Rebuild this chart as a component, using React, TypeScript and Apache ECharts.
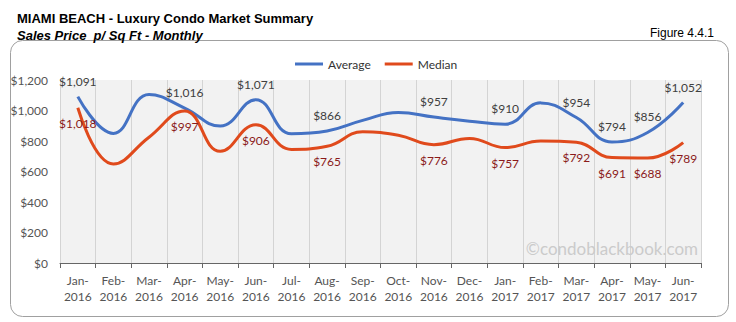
import React, { useEffect, useRef } from "react";
import * as echarts from "echarts";

const categories = [
  "Jan-\n2016", "Feb-\n2016", "Mar-\n2016", "Apr-\n2016", "May-\n2016", "Jun-\n2016",
  "Jul-\n2016", "Aug-\n2016", "Sep-\n2016", "Oct-\n2016", "Nov-\n2016", "Dec-\n2016",
  "Jan-\n2017", "Feb-\n2017", "Mar-\n2017", "Apr-\n2017", "May-\n2017", "Jun-\n2017",
];
const averageValues = [1091, 850, 1105, 1016, 898, 1071, 848, 866, 935, 987, 957, 930, 910, 1050, 954, 794, 856, 1052];
const medianValues = [1018, 649, 825, 997, 732, 906, 745, 765, 860, 838, 776, 817, 757, 800, 792, 691, 688, 789];
const labeledIdx = [0, 3, 5, 7, 10, 12, 14, 15, 16, 17];
const yTicks = [0, 200, 400, 600, 800, 1000, 1200];

const BLUE = "#4472c4";
const RED = "#e04a1c";
const FONT = "Lato, 'Open Sans', sans-serif";
const fmt = (v: number) => "$" + v.toLocaleString("en-US");

export default function App() {
  const ref = useRef<HTMLDivElement>(null);
  useEffect(() => {
    document.body.style.margin = "0";
    const chart = echarts.init(ref.current!, null, { renderer: "svg" });
    const mk = (vals: number[], pos: string, color: string) =>
      vals.map((v, i) => ({
        value: v,
        label: labeledIdx.includes(i)
          ? { show: true, position: pos, distance: 9, formatter: fmt(v), color, fontSize: 12, fontFamily: FONT }
          : { show: false },
      }));
    chart.setOption({
      animation: false,
      backgroundColor: "#fff",
      title: [
        {
          text: "MIAMI BEACH - Luxury Condo Market Summary",
          left: 12, top: 7,
          textStyle: { fontFamily: "'Liberation Sans', Arial, sans-serif", fontSize: 13, fontWeight: "bold", color: "#000" },
        },
        {
          text: "Sales Price  p/ Sq Ft - Monthly",
          left: 12, top: 24,
          textStyle: { fontFamily: "'Liberation Sans', Arial, sans-serif", fontSize: 13, fontWeight: "bold", fontStyle: "italic", color: "#000" },
        },
        {
          text: "Figure 4.4.1",
          right: 17, top: 22,
          textStyle: { fontFamily: "'Liberation Sans', Arial, sans-serif", fontSize: 12, fontWeight: "normal", color: "#000" },
        },
      ],
      graphic: [
        {
          type: "rect", z: -10,
          shape: { x: 10.5, y: 40.5, width: 718, height: 276, r: 12 },
          style: { fill: "#fff", stroke: "#a0a0a0", lineWidth: 1 },
        },
        {
          type: "text", right: 38, top: 240, z: 5,
          style: { text: "©condoblackbook.com", fill: "#cbcbcb", font: `17px ${FONT}` },
        },
      ],
      legend: {
        top: 53, left: 290, itemWidth: 28, itemHeight: 3, itemGap: 14,
        icon: "rect",
        textStyle: { fontFamily: FONT, fontSize: 12, color: "#333" },
        data: [
          { name: "Average", itemStyle: { color: BLUE } },
          { name: "Median", itemStyle: { color: RED } },
        ],
      },
      grid: {
        left: 60, right: 35, top: 80, bottom: 59,
        show: true, backgroundColor: "#f2f2f2", borderWidth: 0,
      },
      xAxis: {
        type: "category",
        data: categories,
        boundaryGap: true,
        axisLine: { lineStyle: { color: "#666" } },
        axisTick: { show: true, length: 5, lineStyle: { color: "#666" }, alignWithLabel: false },
        splitLine: { show: true, interval: 0, lineStyle: { color: "#d4d4d4", width: 1 } },
        axisLabel: { interval: 0, color: "#555", fontFamily: FONT, fontSize: 12, lineHeight: 16, margin: 9 },
      },
      yAxis: {
        type: "value",
        min: 0, max: 1200, interval: 200,
        axisLine: { show: false },
        axisTick: { show: false },
        splitLine: { show: false },
        axisLabel: { color: "#555", fontFamily: FONT, fontSize: 12, margin: 12, formatter: (v: number) => (yTicks.includes(v) ? fmt(v) : "") },
      },
      series: [
        {
          name: "Average", type: "line", smooth: 0.45, showSymbol: true, symbol: "circle", symbolSize: 1,
          lineStyle: { color: BLUE, width: 3 }, itemStyle: { color: "transparent", borderWidth: 0 },
          labelLayout: { hideOverlap: false },
          data: mk(averageValues, "top", "#404040"),
        },
        {
          name: "Median", type: "line", smooth: 0.45, showSymbol: true, symbol: "circle", symbolSize: 1,
          lineStyle: { color: RED, width: 3 }, itemStyle: { color: "transparent", borderWidth: 0 },
          labelLayout: { hideOverlap: false },
          data: mk(medianValues, "bottom", "#8b1a1a"),
        },
      ],
    });
    return () => chart.dispose();
  }, []);
  return <div ref={ref} style={{ position: "absolute", left: 0, top: 0, width: 736, height: 322 }} />;
}
